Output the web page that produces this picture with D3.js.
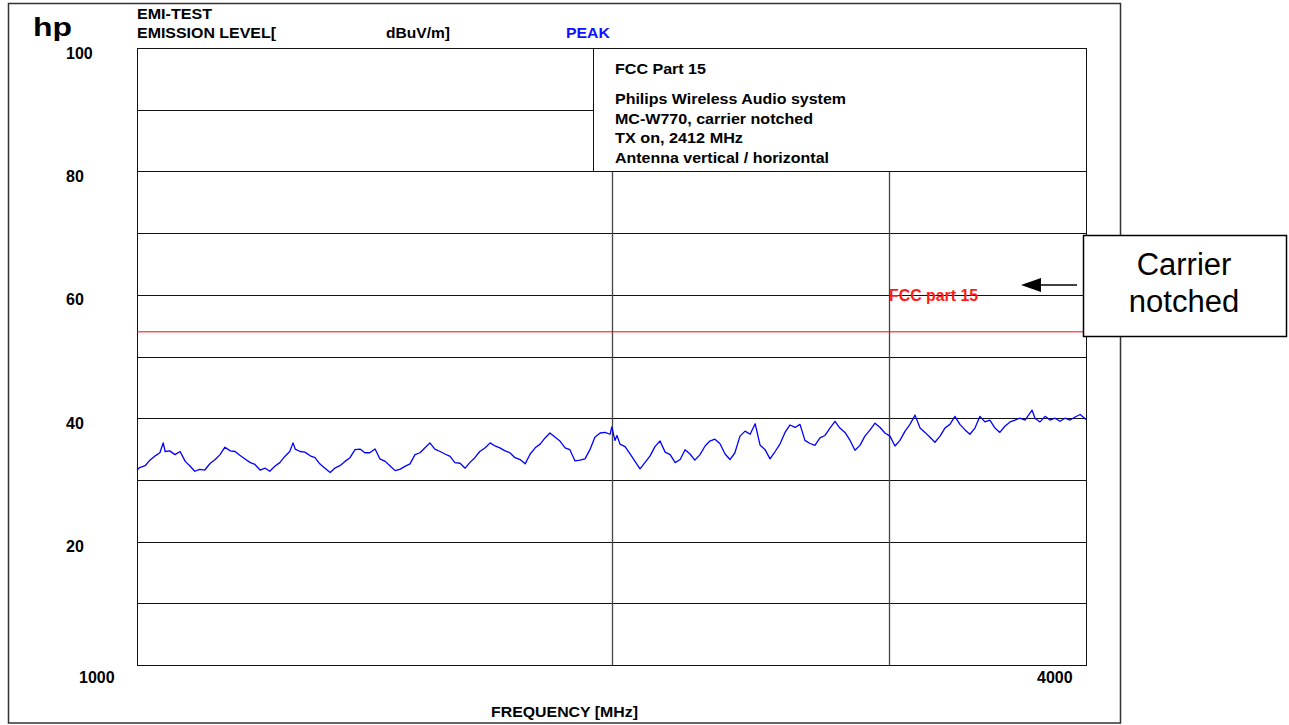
<!DOCTYPE html>
<html>
<head>
<meta charset="utf-8">
<script src="https://cdn.jsdelivr.net/npm/d3@7"></script>
<style>
  html, body { margin: 0; padding: 0; background: #fff; }
  svg { display: block; }
  text { font-family: "Liberation Sans", Arial, Helvetica, sans-serif; }
</style>
</head>
<body>
<svg id="plot" width="1289" height="725"></svg>
<script>
// Scan range and level axis
const freqDomain = [1000, 4000];          // MHz
const levelDomain = [0, 100];             // dBuV/m
const levelGrid = [10, 20, 30, 40, 50, 60, 70, 80, 90];
const levelTickLabels = [100, 80, 60, 40, 20];
const freqGrid = [2000, 3000];
const freqTickLabels = [1000, 4000];
const limitLevel = 54;                    // FCC part 15 limit, dBuV/m

const headerLines = ["EMI-TEST", "EMISSION LEVEL["];
const unitText = "dBuV/m]";
const detectorText = "PEAK";
const infoTitle = "FCC Part 15";
const infoLines = [
  "Philips Wireless Audio system",
  "MC-W770, carrier notched",
  "TX on, 2412 MHz",
  "Antenna vertical / horizontal"
];
const calloutLines = ["Carrier", "notched"];

// Peak detector sweep: [frequency MHz, level dBuV/m]
const peakTrace = [
  [1000,31.6],[1004,32.0],[1012,32.3],[1019,33.2],[1027,33.9],[1034,34.4],[1039,36.0],[1042,34.6],
  [1049,34.7],[1057,34.1],[1065,34.6],[1073,33.0],[1080,32.3],[1088,31.4],[1096,31.7],[1104,31.6],
  [1113,32.7],[1121,33.3],[1129,34.1],[1137,35.3],[1146,34.7],[1154,34.6],[1162,34.0],[1171,33.4],
  [1180,32.8],[1188,32.5],[1197,31.6],[1206,31.9],[1214,31.4],[1223,32.2],[1232,32.8],[1241,33.8],
  [1250,34.6],[1256,36.0],[1260,35.0],[1269,34.6],[1278,34.5],[1288,33.9],[1297,33.6],[1306,32.6],
  [1316,31.9],[1326,31.2],[1335,31.9],[1345,32.3],[1355,33.0],[1365,33.6],[1375,34.9],[1385,35.0],
  [1395,34.4],[1405,34.4],[1416,35.0],[1426,33.4],[1437,33.0],[1447,32.3],[1458,31.5],[1468,31.7],
  [1479,32.2],[1490,32.6],[1501,34.1],[1512,34.4],[1523,35.2],[1534,36.0],[1545,35.0],[1557,34.6],
  [1568,34.2],[1580,33.8],[1591,32.8],[1603,32.7],[1615,31.9],[1626,32.8],[1638,33.6],[1650,34.6],
  [1663,35.2],[1675,36.0],[1687,35.5],[1699,35.2],[1712,34.7],[1724,34.4],[1737,33.6],[1750,33.3],
  [1763,32.6],[1776,34.2],[1789,35.2],[1802,35.8],[1815,36.8],[1828,37.6],[1842,36.9],[1855,36.3],
  [1869,35.2],[1882,34.9],[1896,33.1],[1910,33.2],[1924,33.4],[1938,34.9],[1952,36.9],[1967,37.6],
  [1981,37.7],[1996,37.4],[2001,38.6],[2010,36.4],[2016,37.2],[2025,35.8],[2040,35.4],[2055,34.2],
  [2070,33.0],[2085,31.8],[2100,32.8],[2116,33.9],[2131,35.4],[2147,36.3],[2163,34.5],[2179,34.1],
  [2195,32.8],[2211,33.3],[2227,34.9],[2243,34.2],[2259,33.2],[2276,34.1],[2293,35.5],[2309,36.3],
  [2326,36.6],[2343,35.9],[2361,34.2],[2378,33.3],[2395,34.4],[2413,37.1],[2431,37.9],[2449,37.4],
  [2467,39.1],[2485,35.6],[2503,34.9],[2521,33.4],[2540,34.6],[2558,35.8],[2577,37.7],[2596,38.9],
  [2615,38.5],[2634,39.0],[2653,36.4],[2673,35.9],[2692,35.6],[2712,36.8],[2732,37.2],[2752,38.4],
  [2772,39.5],[2792,38.4],[2813,37.7],[2834,36.4],[2854,34.8],[2875,35.6],[2896,37.1],[2918,38.1],
  [2939,39.2],[2961,38.5],[2982,37.6],[3004,37.1],[3026,35.5],[3048,36.4],[3071,37.9],[3093,39.0],
  [3116,40.5],[3139,38.4],[3162,37.7],[3185,36.9],[3208,36.1],[3232,37.1],[3255,38.4],[3279,39.0],
  [3303,40.3],[3327,39.0],[3352,38.1],[3376,37.4],[3401,38.4],[3426,40.3],[3451,39.4],[3476,39.7],
  [3502,38.4],[3527,37.7],[3553,38.7],[3580,39.4],[3606,39.7],[3632,40.0],[3659,39.7],[3697,41.3],
  [3713,40.0],[3740,39.4],[3768,40.3],[3795,39.7],[3823,40.0],[3851,39.5],[3879,40.0],[3908,39.7],
  [3937,40.2],[3966,40.6],[4000,39.8]
];

const svg = d3.select("#plot");
const plot = { left: 137, right: 1086, top: 48, bottom: 665 };

const x = d3.scaleLog().domain(freqDomain).range([plot.left, plot.right]);
const y = d3.scaleLinear().domain(levelDomain).range([plot.bottom, plot.top]);

// Stretch a text run to a given width (plotter lettering is wider than Arial)
function fit(sel, width) {
  sel.attr("textLength", width).attr("lengthAdjust", "spacingAndGlyphs");
  return sel;
}
function label(txt, px, py, opts = {}) {
  const t = svg.append("text").text(txt)
    .attr("x", px).attr("y", py)
    .attr("font-size", opts.size || 15)
    .attr("font-weight", opts.weight || "bold")
    .attr("fill", opts.fill || "#000");
  if (opts.anchor) t.attr("text-anchor", opts.anchor);
  if (opts.width) fit(t, opts.width);
  return t;
}

// Outer page frame
svg.append("rect")
  .attr("x", 8.5).attr("y", 3.5)
  .attr("width", 1112).attr("height", 719.5)
  .attr("fill", "none").attr("stroke", "#333").attr("stroke-width", 1.5);

// Header
label("hp", 33, 36, { size: 26, width: 39 });
label(headerLines[0], plot.left, 19, { width: 75 });
label(headerLines[1], plot.left, 38, { width: 139 });
label(unitText, 386, 38, { width: 64 });
label(detectorText, 566, 38, { width: 44, fill: "#1010ff" });

// Horizontal grid
const g = svg.append("g");
g.selectAll("line.hgrid").data(levelGrid).join("line")
  .attr("class", "hgrid")
  .attr("x1", plot.left).attr("x2", plot.right)
  .attr("y1", d => Math.round(y(d)) + 0.5).attr("y2", d => Math.round(y(d)) + 0.5)
  .attr("stroke", "#111").attr("stroke-width", 1);

// Vertical grid
g.selectAll("line.vgrid").data(freqGrid).join("line")
  .attr("class", "vgrid")
  .attr("x1", d => Math.round(x(d)) + 0.5).attr("x2", d => Math.round(x(d)) + 0.5)
  .attr("y1", plot.top).attr("y2", plot.bottom)
  .attr("stroke", "#444").attr("stroke-width", 1.3);

// Plot border
g.append("rect")
  .attr("x", plot.left + 0.5).attr("y", plot.top + 0.5)
  .attr("width", plot.right - plot.left).attr("height", plot.bottom - plot.top)
  .attr("fill", "none").attr("stroke", "#111").attr("stroke-width", 1);

// Info box in the upper right of the plot, down to the 80 dB line
const boxLeft = plot.left + 0.4805 * (plot.right - plot.left);
const boxBottom = Math.round(y(80)) + 0.5;
svg.append("rect")
  .attr("x", Math.round(boxLeft) + 0.5).attr("y", plot.top + 0.5)
  .attr("width", plot.right - Math.round(boxLeft)).attr("height", boxBottom - plot.top - 0.5)
  .attr("fill", "#fff").attr("stroke", "#111").attr("stroke-width", 1);

const infoWidths = [231, 198, 128, 214];
label(infoTitle, boxLeft + 22, 74, { width: 91 });
infoLines.forEach((s, i) => label(s, boxLeft + 22, 104 + i * 19.5, { width: infoWidths[i] }));

// Level axis labels
const yAxis = d3.axisLeft(y).tickValues(levelTickLabels).tickSize(0).tickFormat(d3.format("d"));
const ya = svg.append("g").attr("transform", `translate(${plot.left},0)`).call(yAxis);
ya.select(".domain").remove();
ya.selectAll("text")
  .attr("x", 66 - plot.left).attr("dy", 10)
  .attr("text-anchor", "start")
  .attr("font-family", "Liberation Sans, Arial, sans-serif")
  .attr("font-size", 16).attr("font-weight", "bold").attr("fill", "#000");

// Frequency axis end labels
const xLabelOffset = { 1000: -58, 4000: -49 };
svg.selectAll("text.xlab").data(freqTickLabels).join("text")
  .attr("class", "xlab")
  .attr("x", d => x(d) + xLabelOffset[d]).attr("y", 683)
  .attr("font-size", 16).attr("font-weight", "bold").text(d => d);

label("FREQUENCY [MHz]", 564.5, 717, { anchor: "middle", width: 147 });

// Limit line
svg.append("line")
  .attr("x1", plot.left).attr("x2", plot.right)
  .attr("y1", y(limitLevel)).attr("y2", y(limitLevel))
  .attr("stroke", "#ff0000").attr("stroke-width", 1);
label("FCC part 15", x(3000), 301, { size: 16, width: 89, fill: "#ff1a1a" });

// Peak trace
const line = d3.line().x(d => x(d[0])).y(d => y(d[1]));
svg.append("path").datum(peakTrace)
  .attr("d", line)
  .attr("fill", "none").attr("stroke", "#0000ff").attr("stroke-width", 1.3)
  .attr("stroke-linejoin", "round");

// Callout box with arrow
svg.append("rect")
  .attr("x", 1083.5).attr("y", 235.5).attr("width", 203).attr("height", 101)
  .attr("fill", "#fff").attr("stroke", "#000").attr("stroke-width", 1.5);
svg.selectAll("text.callout").data(calloutLines).join("text")
  .attr("class", "callout")
  .attr("x", 1184).attr("y", (d, i) => 275 + i * 37)
  .attr("text-anchor", "middle")
  .attr("font-size", 31).attr("fill", "#000").text(d => d);

svg.append("line")
  .attr("x1", 1077).attr("x2", 1036).attr("y1", 285).attr("y2", 285)
  .attr("stroke", "#000").attr("stroke-width", 1.5);
svg.append("path")
  .attr("d", "M1021,285 L1041,278 L1041,292 Z")
  .attr("fill", "#000");
</script>
</body>
</html>
